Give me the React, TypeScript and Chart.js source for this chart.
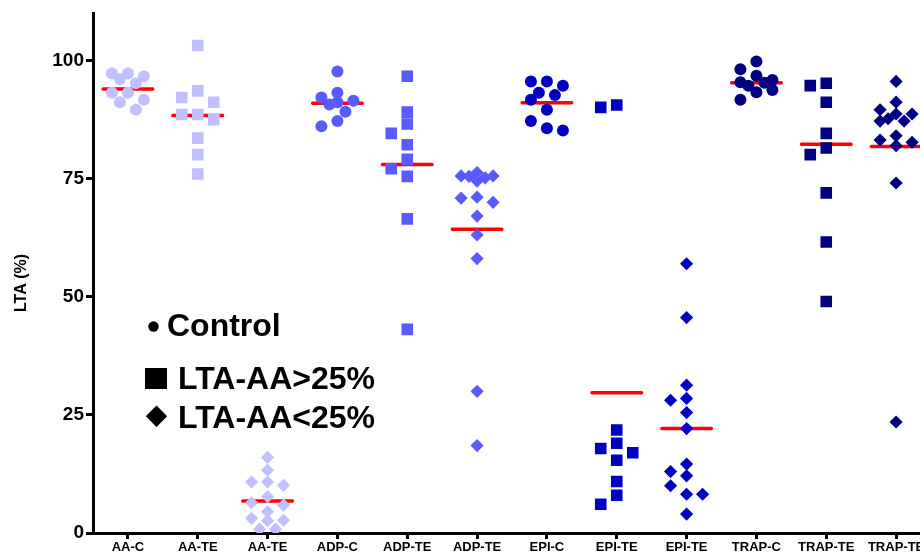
import React, { useEffect, useRef } from "react";
import { Chart, registerables } from "chart.js";

Chart.register(...registerables);

// ---------- data ----------
const categories = [
  "AA-C", "AA-TE", "AA-TE",
  "ADP-C", "ADP-TE", "ADP-TE",
  "EPI-C", "EPI-TE", "EPI-TE",
  "TRAP-C", "TRAP-TE", "TRAP-TE",
];

const aaControl = [97.3, 97.3, 96.7, 96.1, 95.2, 93.2, 93.2, 91.7, 91.2, 89.6];
const aaTEHigh = [103.2, 93.6, 92.2, 91.2, 88.6, 88.6, 87.5, 83.6, 80.1, 76.0];
const aaTELow = [16.0, 13.3, 10.8, 10.1, 10.8, 7.7, 5.9, 6.4, 4.5, 2.7, 3.1, 2.6, 0.8, 0.8];

const adpControl = [97.7, 93.2, 92.2, 91.5, 90.7, 91.2, 89.2, 87.2, 86.1];
const adpTEHigh = [96.7, 89.1, 86.6, 84.6, 82.2, 79.1, 77.1, 75.5, 66.5, 43.1];
const adpTELow = [75.5, 75.6, 76.3, 75.6, 75.2, 74.5, 71.1, 70.9, 70.0, 67.1, 63.1, 58.1, 30.0, 18.5];

const epiControl = [95.6, 95.6, 94.7, 93.2, 92.7, 91.7, 89.6, 87.2, 85.2, 85.7];
const epiTEHigh = [90.1, 90.6, 21.8, 19.0, 17.9, 17.0, 15.4, 10.9, 8.0, 6.1];
const epiTELow = [57.0, 45.6, 31.3, 28.5, 28.1, 25.5, 22.1, 14.6, 12.1, 13.0, 10.0, 8.2, 8.2, 4.0];

const trapControl = [99.8, 98.2, 96.8, 95.9, 95.4, 95.3, 94.7, 93.8, 93.3, 91.7];
const trapTEHigh = [94.7, 95.2, 91.2, 84.6, 81.5, 80.1, 72.0, 61.6, 49.0];
const trapTELow = [95.6, 91.2, 89.6, 88.7, 88.7, 87.2, 87.2, 87.7, 84.1, 83.2, 82.7, 82.0, 74.1, 23.5];

// red horizontal line per column (mean)
const groupMeans = [94.0, 88.4, 6.8, 91.0, 78.0, 64.3, 91.1, 29.7, 22.1, 95.3, 82.3, 81.8];

const yTicks = [0, 25, 50, 75, 100];
const legendLabels = ["Control", "LTA-AA>25%", "LTA-AA<25%"];
const yTitle = "LTA (%)";

// ---------- styling ----------
const COLORS = {
  AA: "#c0c0ff",
  ADP: "#5a5aff",
  EPI: "#0000c0",
  TRAP: "#000080",
};
const SHAPES = ["circle", "rect", "rectRot"];
const RADII: Record<string, number> = { circle: 6, rect: 8.2, rectRot: 6.6 };
const FONT = "'Liberation Sans', Arial, Helvetica, sans-serif";

const groups = [
  { values: aaControl, color: COLORS.AA, shape: 0 },
  { values: aaTEHigh, color: COLORS.AA, shape: 1 },
  { values: aaTELow, color: COLORS.AA, shape: 2 },
  { values: adpControl, color: COLORS.ADP, shape: 0 },
  { values: adpTEHigh, color: COLORS.ADP, shape: 1 },
  { values: adpTELow, color: COLORS.ADP, shape: 2 },
  { values: epiControl, color: COLORS.EPI, shape: 0 },
  { values: epiTEHigh, color: COLORS.EPI, shape: 1 },
  { values: epiTELow, color: COLORS.EPI, shape: 2 },
  { values: trapControl, color: COLORS.TRAP, shape: 0 },
  { values: trapTEHigh, color: COLORS.TRAP, shape: 1 },
  { values: trapTELow, color: COLORS.TRAP, shape: 2 },
];

// simple greedy beeswarm (Prism-like lanes)
const PX_PER_UNIT = 4.73;
const LANE_PX = 16;
const CAT_PX = 69.8;
function swarm(values: number[]): number[] {
  const order = values.map((v, i) => i).sort((a, b) => values[b] - values[a]);
  const placed: { lane: number; v: number }[] = [];
  const lanes: number[] = new Array(values.length).fill(0);
  const cands = [0, -1, 1, -0.5, 0.5];
  for (const idx of order) {
    const v = values[idx];
    let best = 0;
    let bestD = -1;
    let chosen: number | null = null;
    for (const c of cands) {
      let minD = Infinity;
      for (const p of placed) {
        const dx = (c - p.lane) * LANE_PX;
        const dy = (v - p.v) * PX_PER_UNIT;
        minD = Math.min(minD, Math.sqrt(dx * dx + dy * dy));
      }
      if (minD >= 11.5) {
        chosen = c;
        break;
      }
      if (minD > bestD) {
        bestD = minD;
        best = c;
      }
    }
    const lane = chosen === null ? best : chosen;
    lanes[idx] = lane;
    placed.push({ lane, v });
  }
  return lanes.map((l) => (l * LANE_PX) / CAT_PX);
}

const overlayPlugin = {
  id: "overlay",
  afterDraw(chart: any) {
    const ctx = chart.ctx as CanvasRenderingContext2D;
    ctx.save();
    ctx.fillStyle = "#000";
    // y title
    ctx.save();
    ctx.translate(22, 283);
    ctx.rotate(-Math.PI / 2);
    ctx.font = `bold 16px ${FONT}`;
    ctx.textAlign = "center";
    ctx.textBaseline = "middle";
    ctx.fillText(yTitle, 0, 0);
    ctx.restore();

    // legend
    ctx.font = `bold 32px ${FONT}`;
    ctx.textAlign = "left";
    ctx.textBaseline = "alphabetic";
    // circle
    ctx.beginPath();
    ctx.arc(153.5, 326.5, 5.2, 0, Math.PI * 2);
    ctx.fill();
    ctx.fillText(legendLabels[0], 167, 336);
    // square
    ctx.fillRect(145, 368, 22, 21);
    ctx.fillText(legendLabels[1], 178, 388.5);
    // diamond
    ctx.beginPath();
    ctx.moveTo(156.5, 405.5);
    ctx.lineTo(167.2, 416.2);
    ctx.lineTo(156.5, 426.9);
    ctx.lineTo(145.8, 416.2);
    ctx.closePath();
    ctx.fill();
    ctx.fillText(legendLabels[2], 178, 428);
    ctx.restore();
  },
};

export default function App() {
  const ref = useRef<HTMLCanvasElement | null>(null);

  useEffect(() => {
    if (!ref.current) return;

    const pointSets = groups.map((g, i) => {
      const offs = swarm(g.values);
      const shape = SHAPES[g.shape];
      return {
        type: "scatter" as const,
        data: g.values.map((v, k) => ({ x: i + offs[k], y: v })),
        pointStyle: shape,
        pointRadius: RADII[shape],
        pointHoverRadius: RADII[shape],
        pointBackgroundColor: g.color,
        pointBorderColor: g.color,
        pointBorderWidth: 0,
        backgroundColor: g.color,
        borderColor: g.color,
        showLine: false,
        clip: 0,
        order: 0,
      };
    });

    const meanData: any[] = [];
    groupMeans.forEach((m, i) => {
      meanData.push({ x: i - 0.355, y: m });
      meanData.push({ x: i + 0.355, y: m });
      meanData.push({ x: i, y: null });
    });

    const meanSet = {
      type: "line" as const,
      data: meanData,
      borderColor: "#ff0000",
      borderWidth: 3.5,
      borderCapStyle: "round",
      pointRadius: 0,
      spanGaps: false,
      fill: false,
      order: 1,
    };

    const chart = new Chart(ref.current, {
      type: "scatter",
      data: { datasets: [...pointSets, meanSet] as any },
      options: {
        animation: false,
        responsive: false,
        devicePixelRatio: 1,
        events: [],
        layout: { padding: { left: 0, right: 9, top: 12, bottom: 0 } },
        plugins: { legend: { display: false }, tooltip: { enabled: false } },
        scales: {
          x: {
            type: "linear",
            min: -0.5,
            max: 11.5,
            afterBuildTicks: (s: any) => {
              s.ticks = categories.map((_, i) => ({ value: i }));
            },
            afterFit: (s: any) => {
              s.height = 22;
            },
            ticks: {
              callback: (v: any) => categories[Math.round(Number(v))] ?? "",
              font: { family: FONT, size: 13, weight: "bold" },
              color: "#000",
              padding: 1,
              maxRotation: 0,
              autoSkip: false,
            },
            grid: {
              display: true,
              drawOnChartArea: false,
              drawTicks: true,
              tickLength: 6,
              tickWidth: 3,
              tickColor: "#000",
            },
            border: { display: true, width: 3, color: "#000" },
          },
          y: {
            type: "linear",
            min: 0,
            max: 110,
            afterBuildTicks: (s: any) => {
              s.ticks = yTicks.map((v) => ({ value: v }));
            },
            afterFit: (s: any) => {
              s.width = 93;
            },
            ticks: {
              font: { family: FONT, size: 19, weight: "bold" },
              color: "#000",
              padding: 2,
            },
            grid: {
              display: true,
              drawOnChartArea: false,
              drawTicks: true,
              tickLength: 7,
              tickWidth: 3,
              tickColor: "#000",
            },
            border: { display: true, width: 3, color: "#000" },
          },
        },
      } as any,
      plugins: [overlayPlugin],
    });

    return () => chart.destroy();
  }, []);

  return (
    <div
      style={{
        position: "fixed",
        left: 0,
        top: 0,
        width: 920,
        height: 555,
        overflow: "hidden",
        background: "#fff",
      }}
    >
      <canvas ref={ref} width={940} height={555} style={{ width: 940, height: 555, display: "block" }} />
    </div>
  );
}
